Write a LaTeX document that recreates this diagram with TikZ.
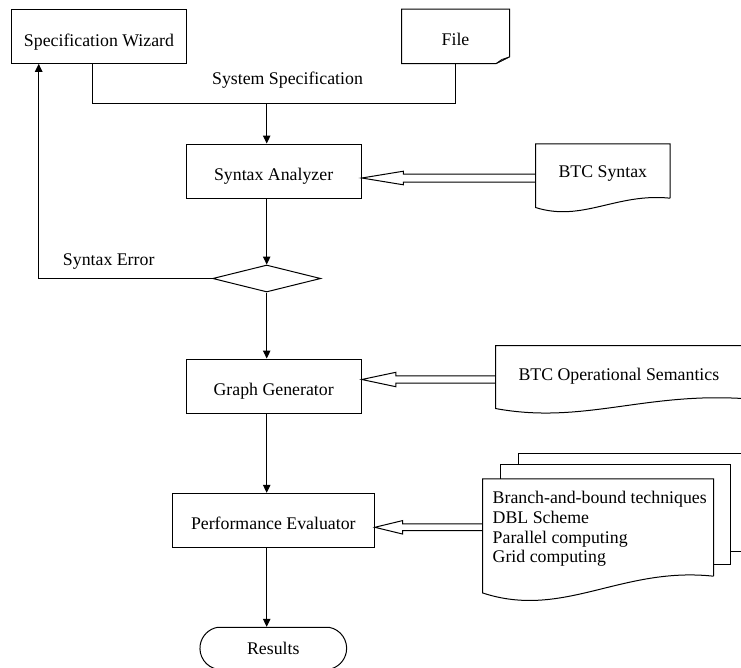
\documentclass[tikz,border=0pt]{standalone}
\usepackage{fontspec}
\setmainfont{Liberation Serif}
\usetikzlibrary{calc,shapes.geometric,shapes.misc,arrows.meta}
\newcommand\wavedoc[2]{%
  \draw[docline] let \p1=(#1.south west), \p2=(#1.south east) in
  (#1.south east) -- (#1.north east) -- (#1.north west) -- (\x1,\y1-#2pt)
  .. controls ({\x1+0.35*(\x2-\x1)},{\y1-2.6*#2pt}) and ({\x1+0.6*(\x2-\x1)},{\y1+0.6*#2pt}) .. (\x2,\y2);}
\newcommand\hollowarr[5]{%
  \draw[docline] let \p1=#1, \p2=#2 in
  (\x2,\y1+#5pt) -- (\x1+#3pt,\y1+#5pt) -- (\x1+#3pt,\y1+#4pt) -- (\x1,\y1)
  -- (\x1+#3pt,\y1-#4pt) -- (\x1+#3pt,\y1-#5pt) -- (\x2,\y1-#5pt);}
\begin{document}
\begin{tikzpicture}[x=1pt,y=-1pt,
  every node/.style={font=\fontsize{17.8}{19.8}\selectfont},
  box/.style={draw, line width=1pt, inner sep=0pt, text height=20pt, text depth=1pt},
  plain/.style={inner sep=0pt, text depth=1pt},
  docline/.style={line width=1pt, line join=miter},
  conn/.style={line width=1pt},
  arr/.style={line width=1pt, -{Triangle[length=8pt,width=7.5pt]}}]
\clip (0,0) rectangle (741,667);
% main flow
\node[box, minimum width=174.3pt, minimum height=54pt, text height=21.8pt] (spec) at (99,36.3) {Specification Wizard};
\node[plain, minimum width=107.6pt, minimum height=54pt, text height=19.8pt] (file) at (455.5,36.3) {File};
\draw[docline] ($(file.south east)+(0,-6.6)$) -- (file.north east) -- (file.north west) -- (file.south west) -- ($(file.south east)+(-13.3,0)$) -- cycle;
\filldraw[fill=gray!65, line width=0.6pt] ($(file.south east)+(-13.3,0)$) -- ($(file.south east)+(0,-6.6)$) -- ($(file.south east)+(-8,-4)$) -- cycle;
\node[anchor=base] (sysspec) at (287.5,84) {System Specification};
\coordinate (bus) at (266.7,103.3);
\draw[conn] ($(spec.south)+(-7,0)$) |- (bus) -| (file.south);
\node[box, minimum width=175.3pt, minimum height=54pt, text height=20.4pt] (sa) at (273.65,171) {Syntax Analyzer};
\draw[arr] (bus) -- (bus |- sa.north);
\node[draw, diamond, aspect=4, line width=1pt, inner sep=0pt, minimum width=108pt, minimum height=27pt] (dec) at (266.7,278.5) {};
\draw[arr] (dec.north |- sa.south) -- (dec.north);
\draw[arr] (dec.west) -| ($(spec.south)+(-60.3,0)$);
\node[anchor=base] (synerr) at (108.7,265) {Syntax Error};
\node[box, minimum width=175.3pt, minimum height=54pt, text height=19pt] (gg) at (273.65,386) {Graph Generator};
\draw[arr] (dec.south) -- (dec.south |- gg.north);
\node[box, minimum width=202pt, minimum height=54.4pt, text height=18pt] (pe) at (273.3,520.5) {Performance Evaluator};
\draw[arr] (dec.south |- gg.south) -- (dec.south |- pe.north);
\node[draw, rounded rectangle, rounded rectangle arc length=160, line width=1pt, inner sep=0pt, minimum width=146.7pt, minimum height=42pt, text height=12.4pt, text depth=1pt] (res) at (273.3,648.3) {Results};
\draw[arr] (dec.south |- pe.south) -- (dec.south |- res.north);
% documents
\node[plain, minimum width=134.3pt, minimum height=54pt, text height=13.6pt] (btc) at (602.85,171) {BTC Syntax};
\wavedoc{btc}{9.3}
\node[plain, minimum width=246.3pt, minimum height=52.6pt, text height=17pt] (bos) at (618.85,372) {BTC Operational Semantics};
\wavedoc{bos}{10}
\node[inner sep=0pt, minimum width=230.6pt, minimum height=97pt] (multi) at (598,527.5) {};
\draw[docline] ($(multi.north west)+(36.3,-14)$) -- ++(0,-11.7) -- ++(229,0) -- ++(0,98.7) -- ++(-17.3,0);
\draw[docline] ($(multi.north west)+(18.3,0)$) -- ++(0,-14) -- ++(229.7,0) -- ++(0,99.3) -- ++(-17.4,0);
\wavedoc{multi}{16.7}
\node[anchor=west, align=left, inner sep=0pt] (multitext) at ($(multi.west)+(10,1.5)$) {Branch-and-bound techniques\\DBL Scheme\\Parallel computing\\Grid computing};
% hollow arrows
\hollowarr{($(sa.east)+(0,7)$)}{(btc.west)}{41.6}{6.8}{4}
\hollowarr{($(gg.east)+(0,-6.5)$)}{(bos.west)}{34}{7.2}{3.7}
\hollowarr{($(pe.east)+(0,6.8)$)}{(multi.west)}{27.7}{6.7}{3.4}
\end{tikzpicture}
\end{document}
